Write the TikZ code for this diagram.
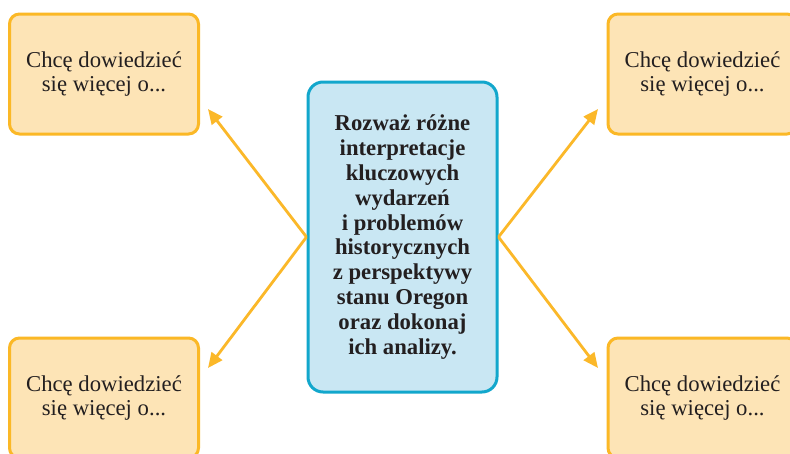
\documentclass[tikz,border=0pt]{standalone}
\usepackage{fontspec}
\setmainfont{Liberation Serif}[BoldFont={Liberation Serif Bold}]
\usetikzlibrary{arrows.meta}
\definecolor{ideafill}{HTML}{FDE4B6}
\definecolor{ideaedge}{HTML}{FBB826}
\definecolor{corefill}{HTML}{C9E7F3}
\definecolor{coreedge}{HTML}{12A7CC}
\definecolor{arrowcol}{HTML}{FBB829}
\definecolor{inkcol}{HTML}{231F20}
\tikzset{
  ideabox/.style={draw=ideaedge, fill=ideafill, line width=3pt, rounded corners=10pt,
    minimum width=189pt, minimum height=120pt, align=center, text=inkcol,
    inner sep=0pt, font=\fontsize{22.7}{24.8}\selectfont},
  corebox/.style={draw=coreedge, fill=corefill, line width=3pt, rounded corners=15pt,
    minimum width=189pt, minimum height=310pt, align=center, text=inkcol,
    inner sep=0pt, font=\fontsize{22.7}{24.8}\selectfont\bfseries},
  linkarrow/.style={draw=arrowcol, line width=2.8pt,
    -{Triangle[length=15pt,width=13pt]}}
}
\begin{document}
\begin{tikzpicture}[x=1pt,y=-1pt]
  \clip (0,0) rectangle (790,453);
  \fill[white] (0,0) rectangle (790,453);

  % four prompt boxes
  \node[ideabox] (tl) at (104,74)    {Chcę dowiedzieć\\się więcej o...};
  \node[ideabox] (tr) at (702.5,74)  {Chcę dowiedzieć\\się więcej o...};
  \node[ideabox] (bl) at (104,398)   {\raisebox{3pt}{\parbox{189pt}{\centering Chcę dowiedzieć\\się więcej o...}}};
  \node[ideabox] (br) at (702.5,398) {\raisebox{3pt}{\parbox{189pt}{\centering Chcę dowiedzieć\\się więcej o...}}};

  % central task box
  \node[corebox] (core) at (402.5,237) {Rozważ różne\\interpretacje\\kluczowych\\wydarzeń\\i problemów\\historycznych\\z perspektywy\\stanu Oregon\\oraz dokonaj\\ich analizy.};

  % arrow end points next to the boxes
  \coordinate (tl-tip) at (208,109);
  \coordinate (bl-tip) at (208,368);
  \coordinate (tr-tip) at (598,109);
  \coordinate (br-tip) at (598,368);

  \draw[linkarrow] (core.west) -- (tl-tip);
  \draw[linkarrow] (core.west) -- (bl-tip);
  \draw[linkarrow] (core.east) -- (tr-tip);
  \draw[linkarrow] (core.east) -- (br-tip);
\end{tikzpicture}
\end{document}
